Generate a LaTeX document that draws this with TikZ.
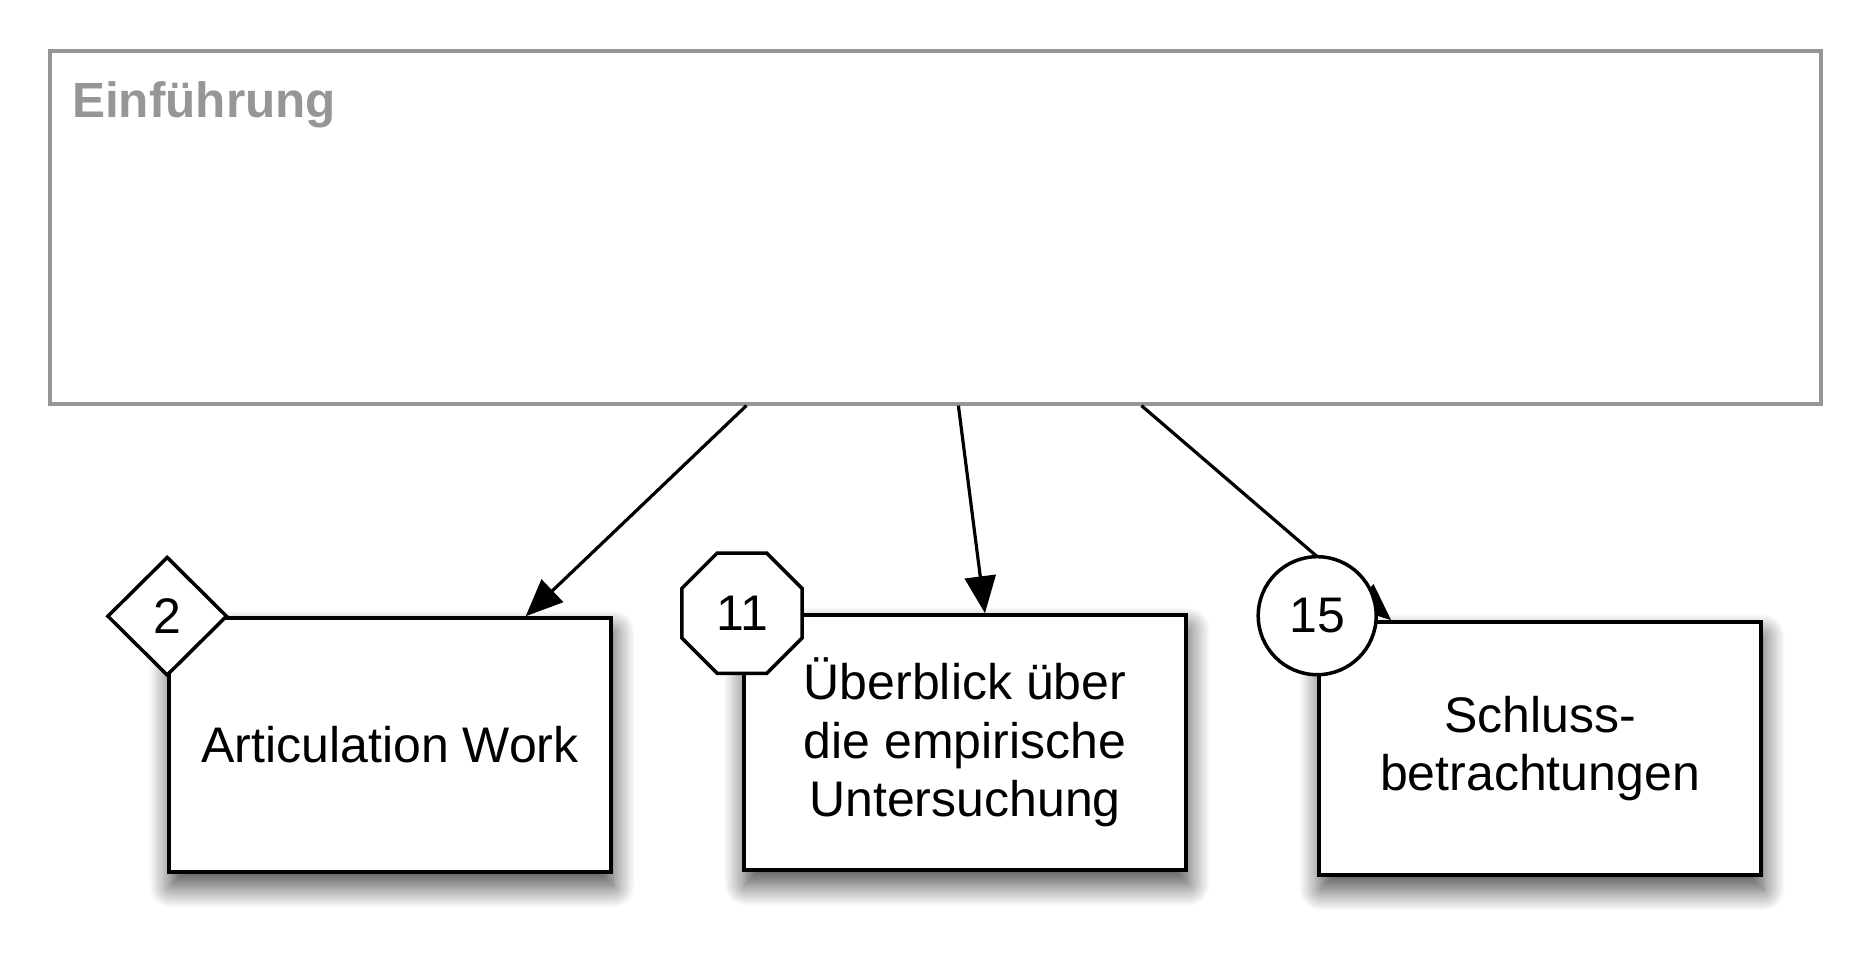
\documentclass[tikz,border=0pt]{standalone}
\usepackage{fontspec}
\setmainfont{Liberation Sans}
\usetikzlibrary{arrows.meta,shapes.geometric,shadows.blur}
\definecolor{introgray}{RGB}{150,150,150}
\begin{document}
\begin{tikzpicture}[x=1pt,y=-1pt,
  introbox/.style={draw=introgray,line width=3.2pt,fill=white,inner sep=0pt,minimum width=1771pt,minimum height=353pt},
  chapter/.style={draw=black,line width=3.6pt,fill=white,align=center,font=\fontsize{50}{58.5}\selectfont,inner sep=0pt,
    blur shadow={shadow xshift=2pt,shadow yshift=-14pt,shadow blur radius=22pt,shadow blur steps=20,shadow opacity=75}},
  badge/.style={draw=black,line width=3.5pt,fill=white,inner sep=0pt,font=\fontsize{50}{50}\selectfont},
  conn/.style={line width=3.2pt,-{Triangle[length=37pt,width=31pt]}}
]
\useasboundingbox (0,0) rectangle (1870,974);
\node[introbox] (intro) at (935.5,227.5) {};
\node[anchor=base west,text=introgray,font=\fontsize{49.5}{49.5}\selectfont\bfseries,inner sep=0pt] (title) at (72,117) {Einführung};
\node[chapter,minimum width=442pt,minimum height=254pt] (b1) at (390,745) {Articulation Work};
\node[chapter,minimum width=442.5pt,minimum height=255pt] (b2) at (965,742.5) {Überblick über\\die empirische\\Untersuchung};
\node[chapter,minimum width=442pt,minimum height=253pt] (b3) at (1540,748.5) {Schluss-\\betrachtungen};
\draw[conn] ([xshift=698pt]intro.south west) -- ([xshift=358.5pt]b1.north west);
\draw[conn] ([xshift=910pt]intro.south west) -- ([xshift=243pt]b2.north west);
\draw[conn] ([xshift=1093pt]intro.south west) -- ([xshift=74pt]b3.north west);
\node[badge,diamond,minimum width=120pt,minimum height=119pt] (n1) at (b1.north west) {2};
\node[badge,regular polygon,regular polygon sides=8,minimum size=130pt] (n2) at (b2.north west) {11};
\node[badge,circle,minimum size=118pt] (n3) at ([yshift=4.5pt]b3.north west) {15};
\end{tikzpicture}
\end{document}
